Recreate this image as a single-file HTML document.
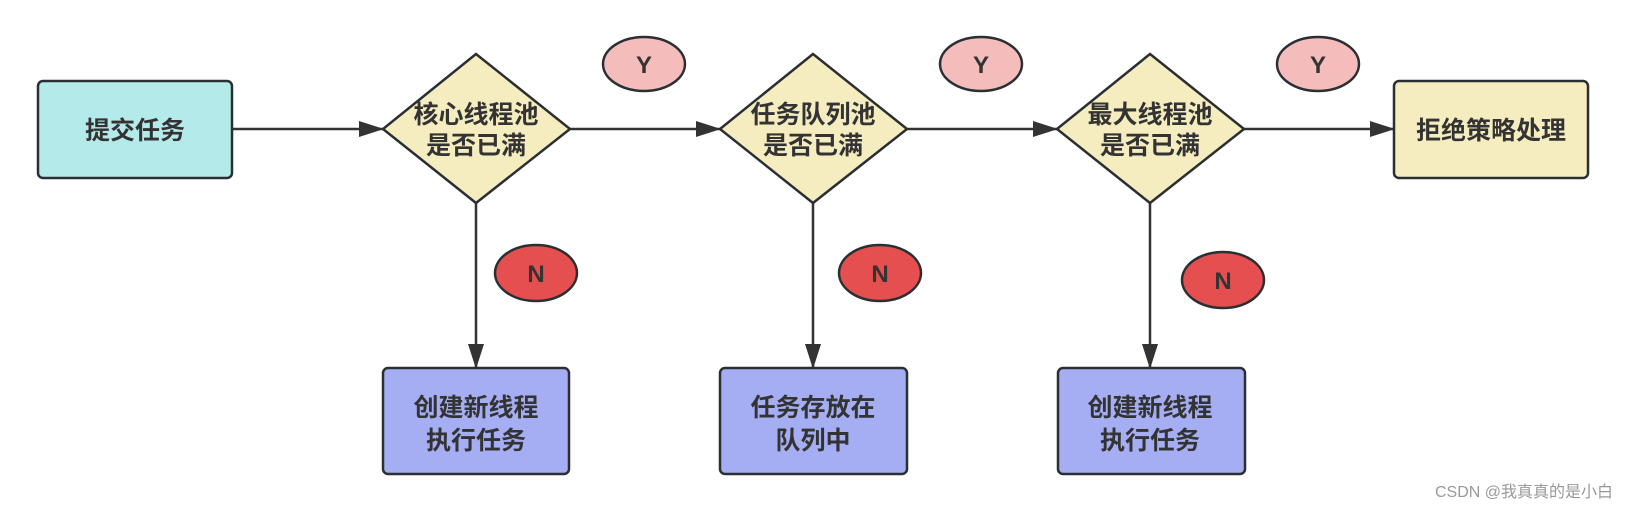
<!DOCTYPE html>
<html><head><meta charset="utf-8"><style>
html,body{margin:0;padding:0;background:#fff;}
svg{display:block;}
text{font-family:"Liberation Sans","Noto Sans CJK SC",sans-serif;font-weight:bold;fill:#333;}
</style></head><body>
<svg width="1627" height="511" viewBox="0 0 1627 511" xmlns="http://www.w3.org/2000/svg">
<defs><marker id="a" markerWidth="10" markerHeight="10" refX="9" refY="5" orient="auto" markerUnits="userSpaceOnUse"><path d="M0,0 L10,5 L0,10 Z" fill="#333"/></marker>
<marker id="b" markerWidth="26" markerHeight="16" refX="24" refY="8" orient="auto" markerUnits="userSpaceOnUse"><path d="M0,0 L25,8 L0,16 Z" fill="#333"/></marker></defs>
<g stroke="#333" stroke-width="2.5" fill="none">
<line x1="232" y1="129" x2="383" y2="129" marker-end="url(#b)"/>
<line x1="570" y1="129" x2="720" y2="129" marker-end="url(#b)"/>
<line x1="907" y1="129" x2="1057" y2="129" marker-end="url(#b)"/>
<line x1="1244" y1="129" x2="1394" y2="129" marker-end="url(#b)"/>
<line x1="476" y1="203" x2="476" y2="368" marker-end="url(#b)"/>
<line x1="813" y1="203" x2="813" y2="368" marker-end="url(#b)"/>
<line x1="1150" y1="203" x2="1150" y2="368" marker-end="url(#b)"/>
</g>
<g stroke="#2a2f33" stroke-width="2.5">
<rect x="38" y="81" width="194" height="97" rx="5" fill="#b5eaea"/>
<rect x="1394" y="81" width="194" height="97" rx="5" fill="#f5edbf"/>
<rect x="383" y="368" width="186" height="106" rx="5" fill="#a5aef2"/>
<rect x="720" y="368" width="187" height="106" rx="5" fill="#a5aef2"/>
<rect x="1058" y="368" width="187" height="106" rx="5" fill="#a5aef2"/>
<polygon points="476,54 570,129 476,203 383,129" fill="#f5edbf"/>
<polygon points="813,54 907,129 813,203 720,129" fill="#f5edbf"/>
<polygon points="1150,54 1244,129 1150,203 1057,129" fill="#f5edbf"/>
<ellipse cx="644" cy="64" rx="41" ry="27" fill="#f5bcbc"/>
<ellipse cx="981" cy="64" rx="41" ry="27" fill="#f5bcbc"/>
<ellipse cx="1318" cy="64" rx="41" ry="27" fill="#f5bcbc"/>
<ellipse cx="536" cy="273" rx="41" ry="28" fill="#e54f4f"/>
<ellipse cx="880" cy="273" rx="41" ry="28" fill="#e54f4f"/>
<ellipse cx="1223" cy="280" rx="41" ry="28" fill="#e54f4f"/>
</g>
<g font-size="25" text-anchor="middle">
<text x="135" y="139">提交任务</text>
<text x="1491" y="139">拒绝策略处理</text>
<text x="476" y="123">核心线程池</text><text x="476" y="154">是否已满</text>
<text x="813" y="123">任务队列池</text><text x="813" y="154">是否已满</text>
<text x="1150" y="123">最大线程池</text><text x="1150" y="154">是否已满</text>
<text x="476" y="416">创建新线程</text><text x="476" y="449">执行任务</text>
<text x="813" y="416">任务存放在</text><text x="813" y="449">队列中</text>
<text x="1150" y="416">创建新线程</text><text x="1150" y="449">执行任务</text>
<text x="644" y="73" font-size="24">Y</text>
<text x="981" y="73" font-size="24">Y</text>
<text x="1318" y="73" font-size="24">Y</text>
<text x="536" y="282" font-size="24">N</text>
<text x="880" y="282" font-size="24">N</text>
<text x="1223" y="289" font-size="24">N</text>
</g>
<text x="1613" y="497" font-size="16" text-anchor="end" style="font-weight:normal;fill:#999">CSDN @我真真的是小白</text>
</svg>
</body></html>
